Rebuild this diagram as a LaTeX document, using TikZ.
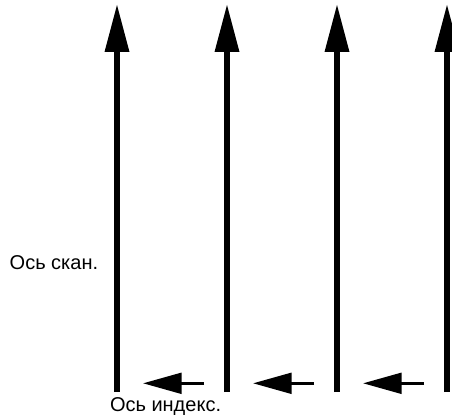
\documentclass[tikz,border=0pt]{standalone}
\usepackage{fontspec}
\setmainfont{Liberation Sans}
\begin{document}
\begin{tikzpicture}[x=1pt,y=-1pt,
  shaft/.style={line width=6pt},
  idxline/.style={line width=3.2pt},
  headfill/.style={fill=black},
  lbl/.style={inner sep=0pt, anchor=base west, font=\fontsize{20pt}{24pt}\selectfont}]
\useasboundingbox (0,0) rectangle (452,417);
\clip (0,0) rectangle (452,417);
\foreach \i in {0,...,3} {
  \pgfmathsetmacro\xx{117+110*\i}
  \coordinate (b\i) at (\xx,392);
  \coordinate (t\i) at (\xx,50);
  \draw[shaft] (b\i) -- (t\i);
  \fill[headfill] (\xx,5) -- (\xx-12.5,52) -- (\xx+12.5,52) -- cycle;
}
\foreach \i in {0,1,2} {
  \pgfmathsetmacro\xx{117+110*\i}
  \coordinate (s\i) at (\xx+87,383.3);
  \coordinate (e\i) at (\xx+62,383.3);
  \draw[idxline] (s\i) -- (e\i);
  \fill[headfill] (\xx+26.3,383.3) -- (\xx+64.7,372.5) -- (\xx+64.7,394.1) -- cycle;
}
\node[lbl] (scan) at (9.5,269.5) {Ось скан.};
\node[lbl] (index) at (109.8,411.5) {Ось индекс.};
\end{tikzpicture}
\end{document}
